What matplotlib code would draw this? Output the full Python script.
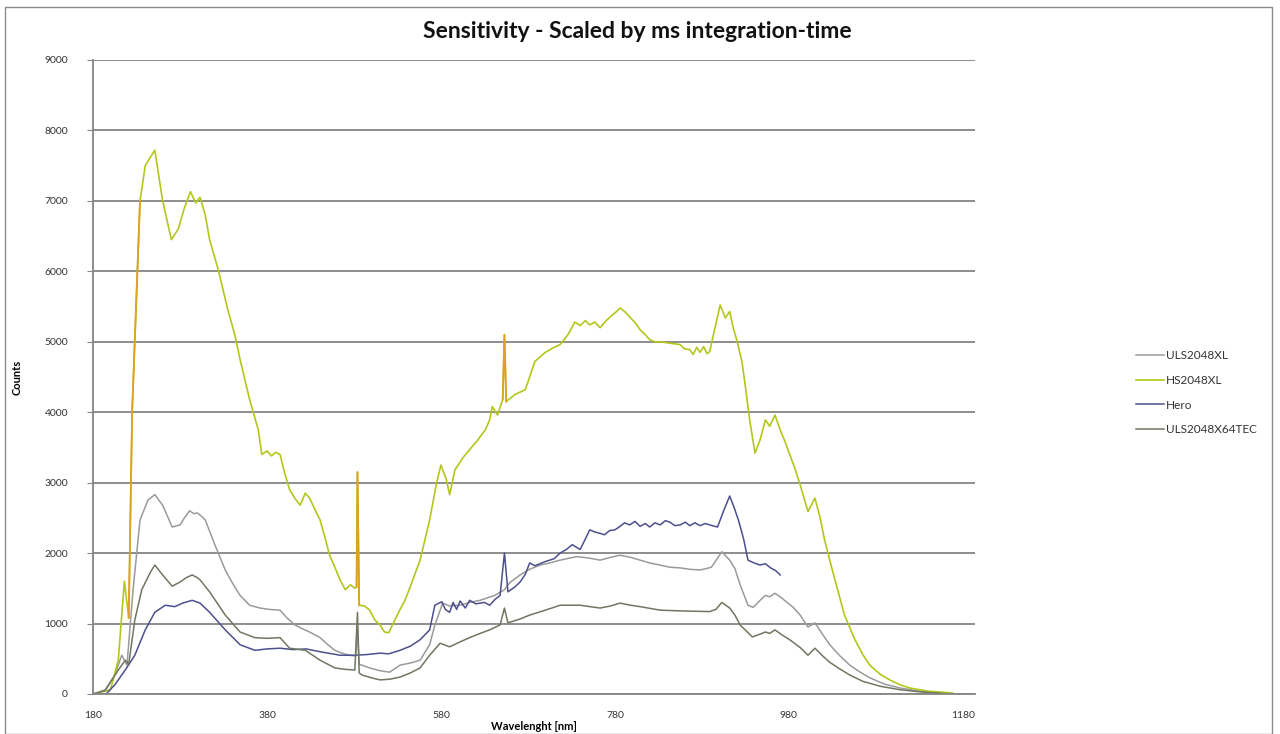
import matplotlib.pyplot as plt
import numpy as np
from matplotlib.patches import Rectangle

plt.rcParams['font.family'] = ['Lato', 'DejaVu Sans']

# ---- spectra (wavelength nm, counts) ----
hs_nm = [180, 200, 209, 216, 221, 225, 234, 240, 251, 260, 270, 278, 285, 292, 298, 303, 309, 314,
         324, 335, 343, 349, 360, 370, 374, 380, 385, 390, 395, 400, 406, 412, 418, 424, 429, 435,
         441, 446, 452, 458, 464, 470, 476, 481, 483, 484, 486, 492, 498, 504, 510, 515, 520, 527,
         533, 539, 547, 556, 567, 575, 580, 586, 590, 596, 605, 613, 622, 631, 636, 639, 645, 651,
         653, 655, 660, 665, 677, 688, 700, 710, 717, 726, 734, 740, 746, 751, 757, 763, 770, 777,
         782, 786, 792, 798, 804, 809, 815, 820, 826, 832, 843, 855, 860, 866, 870, 874, 878, 882,
         886, 889, 892, 897, 901, 907, 912, 916, 920, 926, 929, 935, 941, 947, 953, 958, 964, 970,
         975, 981, 987, 993, 1002, 1010, 1016, 1021, 1027, 1033, 1044, 1056, 1065, 1073, 1085, 1096,
         1108, 1119, 1140, 1168]
hs_counts = [0, 60, 480, 1600, 1080, 4030, 7000, 7500, 7720, 7000, 6450, 6600, 6900, 7130, 6970, 7050,
             6800, 6450, 6020, 5450, 5100, 4750, 4180, 3750, 3400, 3450, 3380, 3430, 3400, 3150, 2900,
             2780, 2680, 2850, 2780, 2620, 2470, 2250, 1970, 1800, 1620, 1480, 1550, 1500, 1520, 3150,
             1260, 1250, 1190, 1050, 980, 880, 870, 1050, 1200, 1340, 1600, 1900, 2470, 3000, 3250,
             3050, 2830, 3180, 3350, 3470, 3600, 3750, 3890, 4080, 3960, 4180, 5100, 4150, 4200, 4250,
             4320, 4720, 4850, 4920, 4960, 5100, 5280, 5230, 5300, 5240, 5280, 5200, 5300, 5380, 5430,
             5480, 5420, 5340, 5260, 5170, 5100, 5030, 5000, 5000, 4980, 4960, 4900, 4890, 4820, 4920,
             4850, 4930, 4830, 4860, 5030, 5300, 5520, 5340, 5430, 5200, 5030, 4720, 4460, 3890, 3420,
             3610, 3890, 3800, 3960, 3750, 3600, 3400, 3200, 2970, 2590, 2780, 2500, 2190, 1900, 1620,
             1120, 770, 560, 410, 280, 200, 130, 85, 40, 15]

uls_nm = [180, 194, 205, 213, 219, 226, 234, 243, 251, 260, 271, 280, 285, 291, 296, 300, 305, 309, 320,
          332, 340, 349, 360, 372, 383, 395, 403, 412, 420, 429, 441, 450, 458, 466, 475, 482, 484, 486,
          489, 498, 510, 521, 533, 545, 556, 567, 573, 582, 590, 602, 613, 625, 642, 653, 659, 671, 682,
          694, 705, 717, 736, 750, 763, 775, 786, 798, 809, 820, 832, 843, 855, 866, 878, 885, 891, 903,
          912, 918, 924, 933, 939, 947, 953, 958, 964, 970, 975, 985, 993, 1002, 1010, 1018, 1027, 1038,
          1050, 1062, 1073, 1090, 1108, 1130, 1154, 1168]
uls_counts = [0, 60, 270, 550, 410, 1480, 2470, 2750, 2830, 2680, 2370, 2400, 2500, 2600, 2560, 2570,
              2520, 2470, 2120, 1760, 1580, 1400, 1260, 1220, 1200, 1190, 1080, 980, 930, 880, 800, 700,
              620, 580, 550, 540, 900, 420, 410, 370, 330, 310, 410, 440, 480, 700, 980, 1290, 1250, 1260,
              1300, 1330, 1400, 1480, 1580, 1690, 1770, 1830, 1860, 1900, 1950, 1930, 1900, 1940, 1970,
              1940, 1900, 1860, 1830, 1800, 1790, 1770, 1760, 1780, 1800, 2020, 1900, 1780, 1550, 1260,
              1230, 1330, 1400, 1380, 1430, 1380, 1330, 1230, 1120, 950, 1010, 860, 700, 550, 410, 310,
              230, 140, 85, 40, 15, 5]

hero_nm = [195, 205, 217, 228, 240, 251, 263, 274, 283, 294, 303, 314, 332, 349, 366, 380, 395, 410,
           425, 441, 455, 464, 481, 495, 510, 520, 533, 545, 556, 567, 573, 581, 585, 590, 594, 598,
           602, 608, 613, 620, 630, 636, 642, 648, 653, 657, 665, 671, 677, 682, 688, 694, 700, 710,
           717, 724, 731, 740, 746, 751, 757, 763, 768, 774, 780, 786, 791, 797, 803, 809, 815, 820,
           826, 832, 838, 843, 849, 855, 861, 866, 872, 878, 884, 889, 898, 905, 912, 917, 922, 928,
           933, 940, 947, 953, 959, 965, 970]
hero_counts = [0, 130, 340, 550, 910, 1160, 1260, 1240, 1290, 1330, 1290, 1160, 910, 700, 620, 640,
               650, 630, 640, 600, 570, 550, 550, 560, 580, 570, 620, 680, 770, 910, 1260, 1310, 1200,
               1160, 1300, 1200, 1320, 1220, 1330, 1280, 1300, 1260, 1340, 1400, 2000, 1450, 1520, 1590,
               1700, 1860, 1820, 1850, 1880, 1920, 2000, 2050, 2120, 2050, 2200, 2330, 2300, 2280, 2260,
               2320, 2330, 2380, 2430, 2400, 2450, 2380, 2420, 2370, 2430, 2400, 2460, 2440, 2390, 2400,
               2440, 2390, 2430, 2390, 2420, 2400, 2370, 2600, 2810, 2650, 2470, 2200, 1900, 1860, 1830,
               1850, 1790, 1750, 1690]

tec_nm = [180, 194, 209, 217, 221, 228, 236, 246, 251, 260, 271, 280, 287, 294, 300, 303, 314, 332,
          349, 366, 380, 395, 406, 424, 441, 458, 470, 481, 484, 486, 489, 500, 510, 521, 533, 545,
          556, 567, 579, 590, 602, 613, 625, 636, 648, 653, 657, 670, 682, 700, 717, 740, 763, 775,
          786, 798, 809, 832, 855, 870, 889, 896, 903, 912, 918, 924, 938, 947, 953, 958, 964, 972,
          981, 993, 1002, 1010, 1018, 1027, 1038, 1050, 1065, 1085, 1108, 1131, 1165]
tec_counts = [0, 50, 340, 480, 420, 1050, 1480, 1730, 1830, 1690, 1530, 1590, 1650, 1690, 1650, 1620,
              1450, 1120, 880, 800, 790, 800, 650, 620, 480, 370, 350, 340, 1160, 300, 270, 230, 200,
              210, 240, 300, 370, 550, 720, 670, 740, 800, 860, 910, 980, 1220, 1010, 1060, 1120, 1190,
              1260, 1260, 1220, 1250, 1290, 1260, 1240, 1190, 1180, 1175, 1170, 1200, 1300, 1220, 1120,
              980, 810, 850, 880, 860, 910, 840, 770, 660, 550, 650, 550, 450, 360, 270, 180, 110, 60,
              30, 0]

x_ticks = [180, 380, 580, 780, 980, 1180]
y_ticks = [0, 1000, 2000, 3000, 4000, 5000, 6000, 7000, 8000, 9000]

fig = plt.figure(figsize=(12.8, 7.34), dpi=100)
ax = fig.add_axes([0.0727, 0.0545, 0.689, 0.8638])

# outer chart border
fig.patches.append(Rectangle((0.004, 0.0), 0.99, 0.99, transform=fig.transFigure,
                             fill=False, edgecolor='#8c8c8c', lw=1.0))

ax.plot(uls_nm, uls_counts, color='#9a9a9a', lw=1.1, label='ULS2048XL')
hs_nm_a = np.array(hs_nm)
hs_c_a = np.array(hs_counts)
ax.plot(hs_nm, hs_counts, color='#b3c71a', lw=1.2, label='HS2048XL')
ax.plot(hero_nm, hero_counts, color='#4d4f8e', lw=1.1, label='Hero')
ax.plot(tec_nm, tec_counts, color='#6f7760', lw=1.1, label='ULS2048X64TEC')

# orange overlay on the steep spikes of the HS curve
for lo, hi in [(221, 234), (483, 486), (651, 655)]:
    m = (hs_nm_a >= lo) & (hs_nm_a <= hi)
    ax.plot(hs_nm_a[m], hs_c_a[m], color='#e0a020', lw=1.3)

ax.set_xlim(180, 1194)
ax.set_ylim(0, 9000)
ax.set_xticks(x_ticks)
ax.set_yticks(y_ticks)
ax.yaxis.grid(True, color='#858585', lw=1.3)
ax.set_axisbelow(True)
for s in ['top', 'right']:
    ax.spines[s].set_visible(False)
for s in ['left', 'bottom']:
    ax.spines[s].set_color('#858585')
    ax.spines[s].set_linewidth(1.3)
ax.tick_params(axis='y', length=4, color='#858585', labelsize=7.5, labelcolor='#333333', pad=14)
ax.tick_params(axis='x', length=0, labelsize=7.5, labelcolor='#333333', pad=12)

ax.set_xlabel('Wavelenght [nm]', fontsize=8, fontweight='bold', labelpad=1)
ax.set_ylabel('Counts', fontsize=8, fontweight='bold', labelpad=16)
fig.text(0.498, 0.957, 'Sensitivity - Scaled by ms integration-time', ha='center', va='center',
         fontsize=16.5, fontweight='bold', color='#111111')

leg = ax.legend(loc='center left', bbox_to_anchor=(1.17, 0.475), frameon=False, fontsize=8.5,
                handlelength=2.4, labelspacing=1.15, handletextpad=0.2)
for t in leg.get_texts():
    t.set_color('#333333')

plt.savefig('out.png', dpi=100)
